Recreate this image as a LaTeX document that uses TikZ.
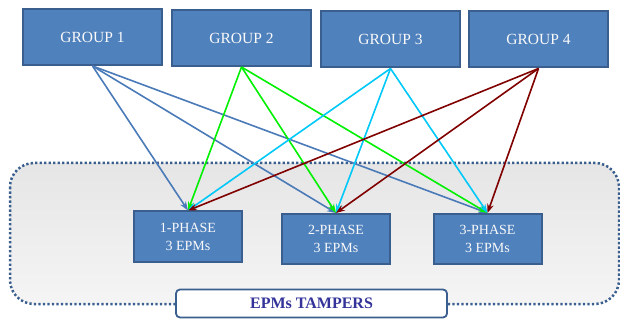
\documentclass[tikz,border=0pt]{standalone}
\usepackage{fontspec}
\setmainfont{Liberation Serif}
\usetikzlibrary{arrows.meta}
\definecolor{boxfill}{HTML}{4F81BD}
\definecolor{boxline}{HTML}{3A5F8E}
\definecolor{c1}{HTML}{4A7AB8}
\definecolor{c2}{HTML}{00F000}
\definecolor{c3}{HTML}{00C8F8}
\definecolor{c4}{HTML}{800000}
\definecolor{titlecol}{HTML}{333399}
\tikzset{
  grp/.style={draw=boxline, fill=boxfill, line width=2pt, text=white!95!gray,
    minimum width=139pt, minimum height=56pt, inner sep=0pt,
    font=\fontsize{15.5}{18}\selectfont},
  phase/.style={draw=boxline, fill=boxfill, line width=2pt, text=white!95!gray,
    minimum width=108pt, minimum height=50pt, inner sep=0pt, align=center,
    font=\fontsize{14}{18}\selectfont},
  conn/.style={line width=1.6pt, -{Stealth[length=9pt,width=6.5pt]}},
}
\begin{document}
\begin{tikzpicture}[x=1pt,y=-1pt]
\useasboundingbox (0,0) rectangle (620,320);
% container
\draw[draw=boxline, line width=2.5pt, dash pattern=on 2.3pt off 2.2pt,
  rounded corners=24pt, top color=gray!20, bottom color=gray!8]
  (10,163) rectangle (619,304);
% groups
\node[grp] (g1) at (92.5,37) {GROUP 1};
\node[grp] (g2) at (241.5,38) {GROUP 2};
\node[grp] (g3) at (390.5,39.5) {GROUP 3};
\node[grp] (g4) at (538.5,39.5) {GROUP 4};
% phases
\node[phase] (p1) at (188,236.5) {1-PHASE\\3 EPMs};
\node[phase] (p2) at (336,239) {2-PHASE\\3 EPMs};
\node[phase] (p3) at (487.5,239) {3-PHASE\\3 EPMs};
% title
\node[draw=boxline, line width=1.8pt, fill=white, rounded corners=4pt,
  minimum width=271pt, minimum height=28pt, inner sep=0pt, text=titlecol,
  font=\fontsize{16}{18}\selectfont\bfseries] (t) at (311.5,303.5) {EPMs TAMPERS};
% connectors
\foreach \p in {p1,p2,p3} {
  \draw[conn, c1] (g1.south) -- (\p.north);
}
\foreach \p in {p1,p2,p3} {
  \draw[conn, c2] (g2.south) -- (\p.north);
}
\foreach \p in {p1,p2,p3} {
  \draw[conn, c3] (g3.south) -- (\p.north);
}
\foreach \p in {p1,p2,p3} {
  \draw[conn, c4] (g4.south) -- (\p.north);
}
\end{tikzpicture}
\end{document}
